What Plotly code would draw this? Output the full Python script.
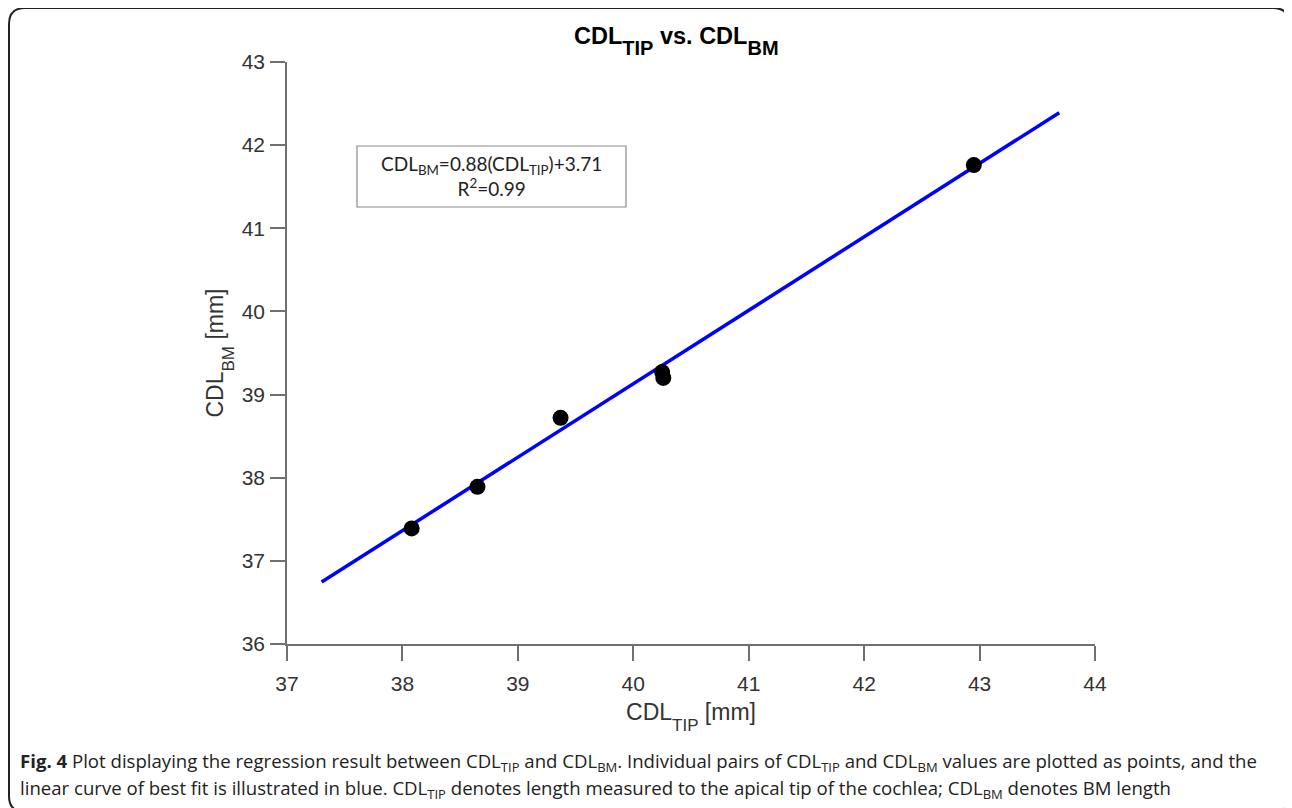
import plotly.graph_objects as go

# Data
cdl_tip = [38.08, 38.65, 39.37, 40.25, 40.26, 42.95]
cdl_bm = [37.39, 37.89, 38.72, 39.27, 39.20, 41.76]
fit_x = [37.30, 43.69]
fit_y = [36.745, 42.39]
x_ticks = [37, 38, 39, 40, 41, 42, 43, 44]
y_ticks = [36, 37, 38, 39, 40, 41, 42, 43]

OFF = 8  # page body margin
W, H = 1292 - OFF, 808 - OFF
# plot area in screen pixels
L, R, T, B = 287, 1095, 62, 644


def px(x):
    return (x - L) / (R - L)


def py(y):
    return (B - y) / (B - T)


def sub(txt, size, shift):
    return f'<span style="font-size:{size}px;baseline-shift:-{shift}px">{txt}</span>'


fig = go.Figure()
fig.add_trace(go.Scatter(x=fit_x, y=fit_y, mode="lines",
                         line=dict(color="#0000ff", width=3.5), showlegend=False))
fig.add_trace(go.Scatter(x=cdl_tip, y=cdl_bm, mode="markers",
                         marker=dict(color="black", size=16), showlegend=False))

axis_common = dict(showgrid=False, zeroline=False, showline=True, linecolor="#707070",
                   linewidth=1.5, ticks="outside", ticklen=15, tickwidth=1.5,
                   tickcolor="#707070",
                   tickfont=dict(family="Liberation Sans", size=21, color="#333333"))

fig.update_xaxes(range=[37, 44], tickvals=x_ticks, ticktext=[str(v) for v in x_ticks],
                 ticklabelstandoff=5,
                 title=dict(text="CDL" + sub("TIP", 17, 11) + " [mm]",
                            font=dict(family="Liberation Sans", size=23, color="#333333"), standoff=10),
                 **axis_common)
fig.update_yaxes(range=[36, 43], tickvals=y_ticks, ticktext=[str(v) for v in y_ticks],
                 ticklabelstandoff=1,
                 title=dict(text="CDL" + sub("BM", 17, 11) + " [mm]",
                            font=dict(family="Liberation Sans", size=23, color="#333333"), standoff=12),
                 **axis_common)

# outer rounded border (screen pixels)
x0, y0, x1, y1, r = 9, 8, 1289, 812, 16
path = (f"M {px(x0 + r)},{py(y0)} L {px(x1 - r)},{py(y0)} Q {px(x1)},{py(y0)} {px(x1)},{py(y0 + r)} "
        f"L {px(x1)},{py(y1 - r)} Q {px(x1)},{py(y1)} {px(x1 - r)},{py(y1)} "
        f"L {px(x0 + r)},{py(y1)} Q {px(x0)},{py(y1)} {px(x0)},{py(y1 - r)} "
        f"L {px(x0)},{py(y0 + r)} Q {px(x0)},{py(y0)} {px(x0 + r)},{py(y0)} Z")
shapes = [dict(type="path", xref="paper", yref="paper", path=path,
               line=dict(color="#222222", width=2))]
# equation box
shapes.append(dict(type="rect", xref="paper", yref="paper", x0=px(357), x1=px(626), y0=py(207), y1=py(146),
                   line=dict(color="#8a8a8a", width=1.2), fillcolor="white"))

cap_font = dict(family="Open Sans", size=18.6, color="#222222")
annotations = [
    dict(text="<b>CDL" + sub("TIP", 20, 11) + " vs. CDL" + sub("BM", 20, 11) + "</b>",
         xref="paper", yref="paper",
         x=px(676), y=py(41), showarrow=False, xanchor="center", yanchor="middle",
         font=dict(family="Liberation Sans", size=23.5, color="black")),
    dict(text="CDL<sub>BM</sub>=0.88(CDL<sub>TIP</sub>)+3.71<br>R<sup>2</sup>=0.99", xref="paper", yref="paper",
         x=px(491), y=py(176), showarrow=False, xanchor="center", yanchor="middle", align="center",
         font=dict(family="Lato", size=19, color="#222222")),
    dict(text="<b>Fig. 4</b> Plot displaying the regression result between CDL<sub>TIP</sub> and CDL<sub>BM</sub>. Individual pairs of CDL<sub>TIP</sub> and CDL<sub>BM</sub> values are plotted as points, and the",
         xref="paper", yref="paper", x=px(18), y=py(762), showarrow=False, xanchor="left", yanchor="middle",
         font=cap_font),
    dict(text="linear curve of best fit is illustrated in blue. CDL<sub>TIP</sub> denotes length measured to the apical tip of the cochlea; CDL<sub>BM</sub> denotes BM length",
         xref="paper", yref="paper", x=px(18), y=py(789), showarrow=False, xanchor="left", yanchor="middle",
         font=cap_font),
]

fig.update_layout(width=W, height=H,
                  margin=dict(l=L - OFF, r=W - (R - OFF), t=T - OFF, b=H - (B - OFF)),
                  plot_bgcolor="white", paper_bgcolor="white", shapes=shapes, annotations=annotations)

fig.write_html("out.html")
